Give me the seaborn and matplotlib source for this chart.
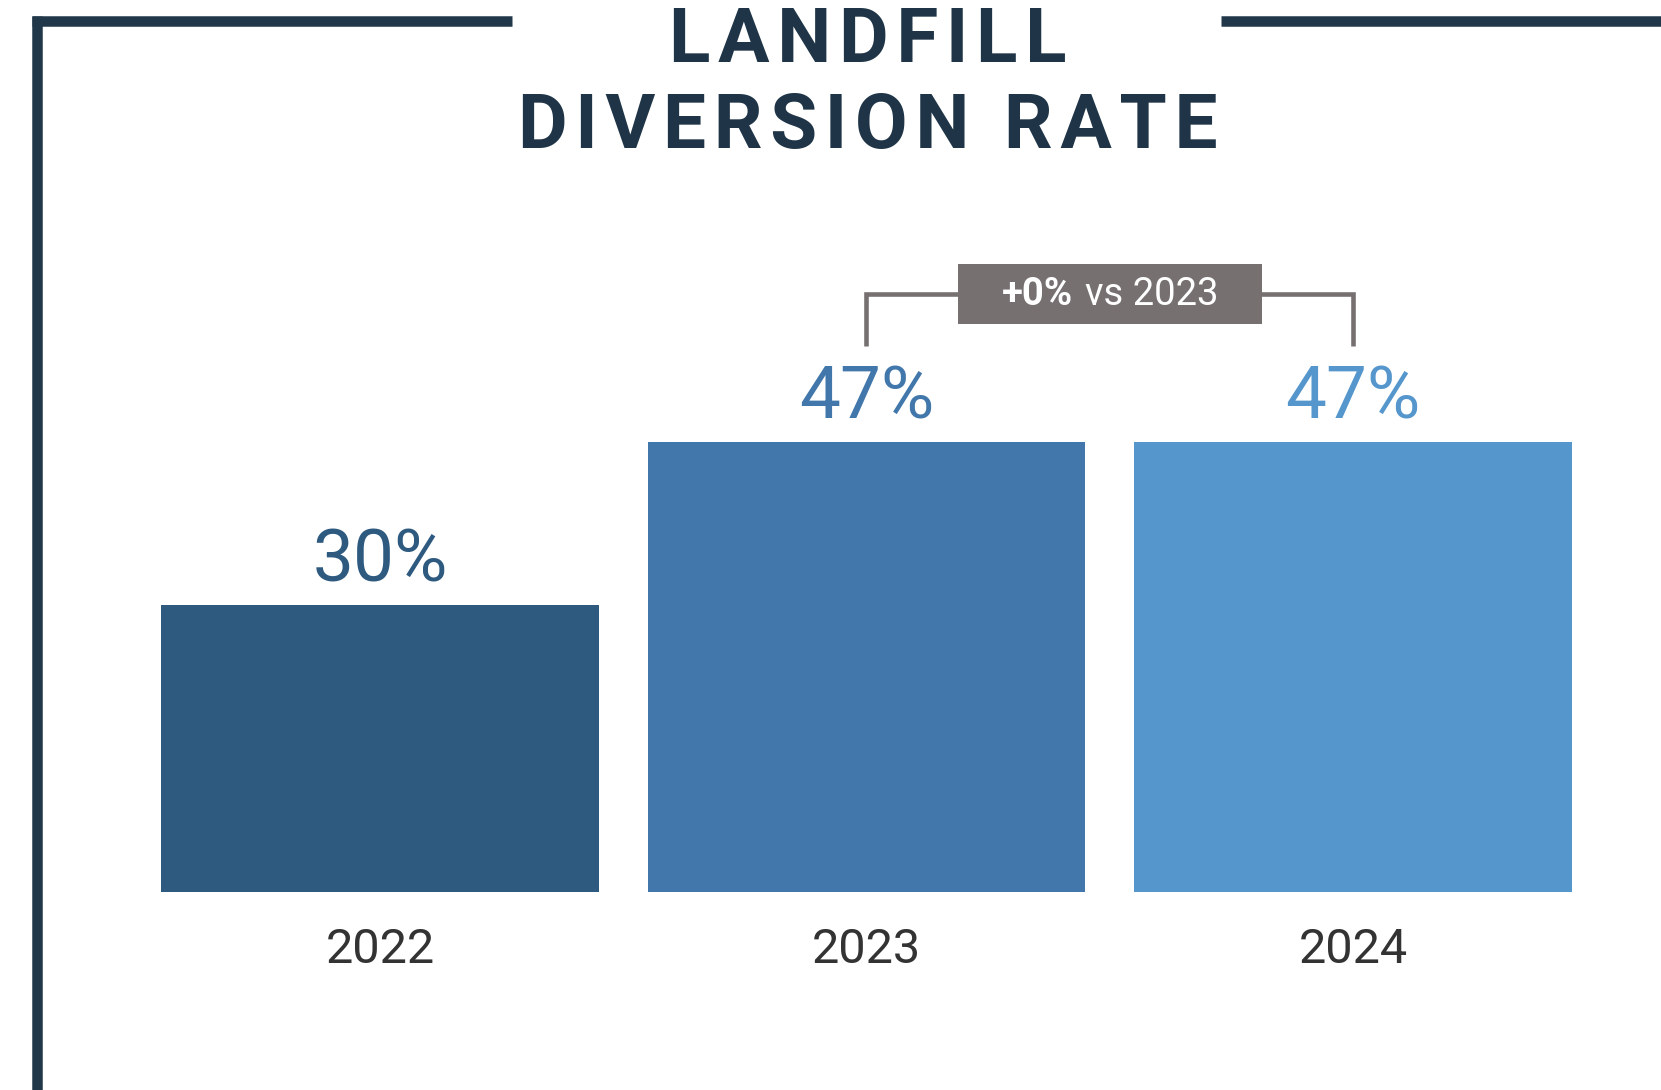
import numpy as np
import pandas as pd
import matplotlib
matplotlib.use("Agg")
import matplotlib.pyplot as plt
import seaborn as sns
from matplotlib.lines import Line2D
from matplotlib.patches import Rectangle

# ---------------- data ----------------
years = ["2022", "2023", "2024"]
rates = [30, 47, 47]
bar_colors = ["#2e5a80", "#4277ab", "#5596cc"]
title_lines = ["LANDFILL", "DIVERSION RATE"]
compare_pair = ("2023", "2024")
delta_text = "+0%"
delta_suffix = "vs 2023"

# ---------------- style ----------------
NAVY = "#1f3547"
GREY = "#767170"
FAM = ["Roboto", "DejaVu Sans"]
DPI = 100
W, H = 1661, 1090

sns.set_theme(style="white")
plt.rcParams["font.family"] = FAM

fig = plt.figure(figsize=(W / DPI, H / DPI), dpi=DPI)
fig.patch.set_facecolor("white")

ax = fig.add_axes([136.75 / W, (H - 892) / H, 1459.5 / W, (892 - 125.6) / H])

df = pd.DataFrame({"year": years, "rate": rates})
sns.barplot(data=df, x="year", y="rate", hue="year", palette=bar_colors,
            order=years, hue_order=years, width=0.9, saturation=1,
            legend=False, linewidth=0, ax=ax)
ax.set_xlim(-0.5, len(years) - 0.5)
ax.set_ylim(0, 80)
ax.set_facecolor("white")
for s in ax.spines.values():
    s.set_visible(False)
ax.set_yticks([])
ax.set_xlabel("")
ax.set_ylabel("")
ax.tick_params(axis="x", length=0, pad=25, labelsize=35, labelcolor="#333333")

# value labels
for i, (v, c) in enumerate(zip(rates, bar_colors)):
    ax.annotate(f"{v}%", (i, v), xytext=(0, 16.6), textcoords="offset points",
                ha="center", va="baseline", fontsize=52.5, color=c)

# comparison bracket
i1, i2 = years.index(compare_pair[0]), years.index(compare_pair[1])
top = max(rates[i1], rates[i2])
y_top = top + 15.4
y_bot = top + 10.0
ax.plot([i1, i1, i2, i2], [y_bot, y_top, y_top, y_bot], color=GREY, lw=3.3,
        solid_joinstyle="miter", solid_capstyle="butt", zorder=3)
xc = (i1 + i2) / 2
bw, bh = 0.625, 6.26
ax.add_patch(Rectangle((xc - bw / 2, y_top - bh / 2), bw, bh, facecolor=GREY,
                       edgecolor="none", zorder=4))
t1 = ax.text(xc, y_top, delta_text, fontsize=27.5, fontweight="bold",
             color="white", ha="left", va="baseline", zorder=5)
t2 = ax.text(xc, y_top, delta_suffix, fontsize=27.5, color="white",
             ha="left", va="baseline", zorder=5)

# ---------------- title with letter tracking ----------------
TITLE_PT = 54
def track(s, sp):
    words = s.split(" ")
    return (sp + " " + sp).join(sp.join(w) for w in words)

title1 = fig.text(868 / W, 1 - 62 / H, title_lines[0], ha="center", va="baseline",
                  fontsize=TITLE_PT, fontweight="bold", color=NAVY, family=FAM)
title2 = fig.text(868 / W, 1 - 148 / H, title_lines[1], ha="center", va="baseline",
                  fontsize=TITLE_PT, fontweight="bold", color=NAVY, family=FAM)

# ---------------- frame lines ----------------
lw = 10.5 * 72 / DPI
col = "#20384a"
fig.add_artist(Line2D([37 / W, 37 / W], [0, 1 - 16 / H], transform=fig.transFigure,
                      color=col, lw=lw, solid_capstyle="butt"))
fig.add_artist(Line2D([32 / W, 512 / W], [1 - 21 / H, 1 - 21 / H], transform=fig.transFigure,
                      color=col, lw=lw, solid_capstyle="butt"))
fig.add_artist(Line2D([1221 / W, 1], [1 - 21 / H, 1 - 21 / H], transform=fig.transFigure,
                      color=col, lw=lw, solid_capstyle="butt"))

# choose spacing / fallback / size so the tracked title matches the target widths
fig.canvas.draw()
r = fig.canvas.get_renderer()
TARGET1, TARGET2 = 401.0, 700.0
spacers = ["\u200a", "\u2009", "\u2006", "\u2005", "\u2008"]
fams = [["Roboto", "DejaVu Sans"], ["Roboto", "Noto Sans", "DejaVu Sans"],
        ["Roboto", "Liberation Sans", "DejaVu Sans"], ["Roboto", "Open Sans", "DejaVu Sans"],
        ["Roboto", "Lato", "DejaVu Sans"], ["Roboto", "Inter", "DejaVu Sans"]]
sizes = [54.0, 54.5, 55.0, 55.5]
best, best_err = None, 1e18
for fam in fams:
    for sp in spacers:
        for fs in sizes:
            try:
                for t in (title1, title2):
                    t.set_family(fam)
                    t.set_fontsize(fs)
                title1.set_text(track(title_lines[0], sp))
                title2.set_text(track(title_lines[1], sp))
                w1_ = title1.get_window_extent(r).width
                w2_ = title2.get_window_extent(r).width
            except Exception:
                continue
            err = abs(w1_ - TARGET1) + abs(w2_ - TARGET2) + 6 * abs(fs - 54)
            if err < best_err:
                best, best_err = (fam, sp, fs), err
fam, sp, fs = best
for t, s in ((title1, title_lines[0]), (title2, title_lines[1])):
    t.set_family(fam)
    t.set_fontsize(fs)
    t.set_text(track(s, sp))

# position the badge texts
w1 = t1.get_window_extent(r).width
w2 = t2.get_window_extent(r).width
gap = 12
cx_disp, cy_disp = ax.transData.transform((xc, y_top))
left = cx_disp - (w1 + gap + w2) / 2
base_disp = cy_disp - 11
inv = ax.transData.inverted()
t1.set_position(inv.transform((left, base_disp)))
t2.set_position(inv.transform((left + w1 + gap, base_disp)))

fig.savefig("out.png", dpi=DPI, facecolor="white")
